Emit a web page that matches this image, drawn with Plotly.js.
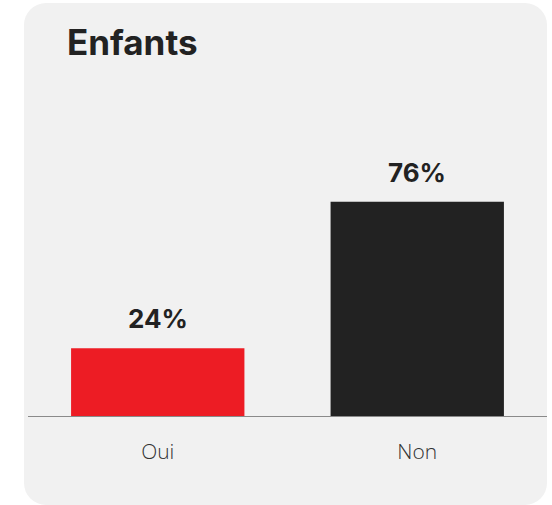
<!DOCTYPE html>
<html><head><meta charset="utf-8">
<script src="https://cdn.plot.ly/plotly-3.0.1.min.js"></script>
<style>
html,body{margin:0;padding:0;background:#ffffff;}
#card{position:absolute;left:24px;top:3px;width:523px;height:502px;border-radius:22px;background:#f1f1f1;}
#chart{position:absolute;left:0;top:0;width:552px;height:505px;}
</style></head>
<body>
<div id="card"></div>
<div id="chart"></div>
<script>
const title = "Enfants";
const categories = ["Oui", "Non"];
const values = [24, 76];
const labels = ["24%", "76%"];
const colors = ["#ed1c24", "#222222"];

const trace = {
  type: "bar",
  x: categories,
  y: values,
  marker: {color: colors},
  hoverinfo: "none"
};

const annotations = categories.map((c, i) => ({
  x: c, y: values[i], xref: "x", yref: "y",
  text: labels[i], showarrow: false,
  yanchor: "bottom", yshift: 12,
  font: {family: "Inter, Roboto, sans-serif", size: 26, color: "#222222", weight: 700}
}));

const layout = {
  width: 552, height: 505,
  paper_bgcolor: "rgba(0,0,0,0)",
  plot_bgcolor: "rgba(0,0,0,0)",
  margin: {l: 28, r: 5, t: 134, b: 89},
  bargap: 0.332,
  showlegend: false,
  title: {
    text: "<b>" + title + "</b>",
    x: 67/552, xanchor: "left", xref: "container",
    y: 1 - 43/505, yanchor: "middle", yref: "container",
    font: {family: "Inter, Roboto, sans-serif", size: 35, color: "#222222"}
  },
  xaxis: {
    showline: true, linecolor: "#8a8a8a", linewidth: 1,
    ticks: "", showgrid: false,
    tickfont: {family: "'Open Sans', sans-serif", size: 21, color: "#333333", weight: 300},
    ticklabelstandoff: 17
  },
  yaxis: {
    range: [0, 100], visible: false, showgrid: false, zeroline: false
  },
  annotations: annotations
};

Plotly.newPlot("chart", [trace], layout, {staticPlot: true, displayModeBar: false});
</script>
</body></html>
